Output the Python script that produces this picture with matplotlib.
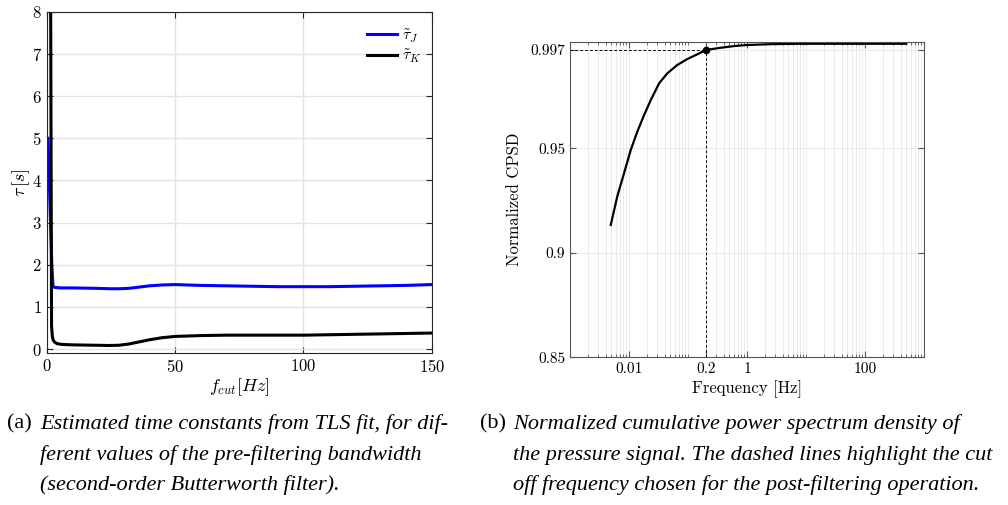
import numpy as np
import matplotlib
matplotlib.use('Agg')
import matplotlib.pyplot as plt
from matplotlib.ticker import FixedLocator, LogLocator, NullFormatter

# ---------------------------------------------------------------------------
# Datos (a): constantes de tiempo vs frecuencia de corte del pre-filtro
# ---------------------------------------------------------------------------
f_cut_J = [0.5, 1.0, 1.5, 2.0, 2.5, 5, 10, 15, 20, 25, 28, 32, 36, 40, 45, 50,
           55, 60, 70, 80, 90, 100, 110, 120, 130, 140, 150]
tau_J = [5.0, 4.0, 3.0, 2.0, 1.47, 1.45, 1.45, 1.445, 1.44, 1.43, 1.43, 1.44,
         1.47, 1.50, 1.52, 1.53, 1.52, 1.51, 1.50, 1.49, 1.48, 1.48, 1.48,
         1.49, 1.50, 1.51, 1.53]

f_cut_K = [1.3, 1.9, 2.2, 2.5, 3.0, 4.0, 6.0, 10, 15, 20, 24, 28, 32, 36, 40,
           45, 50, 55, 60, 70, 80, 90, 100, 110, 120, 130, 140, 150]
tau_K = [14.0, 0.55, 0.30, 0.22, 0.17, 0.13, 0.11, 0.10, 0.095, 0.09, 0.085,
         0.09, 0.12, 0.17, 0.22, 0.27, 0.30, 0.31, 0.32, 0.33, 0.33, 0.33,
         0.33, 0.34, 0.35, 0.36, 0.37, 0.38]

# ---------------------------------------------------------------------------
# Datos (b): CPSD normalizada vs frecuencia
# ---------------------------------------------------------------------------
freq = [0.0049, 0.0063, 0.00822, 0.0107, 0.0138, 0.0180, 0.0234, 0.0324,
        0.0447, 0.0661, 0.0977, 0.1445, 0.2, 0.339, 0.603, 1.0, 2.51, 7.94,
        50, 500]
cpsd = [0.9133, 0.9268, 0.9380, 0.9492, 0.9579, 0.9659, 0.9731, 0.9811,
        0.9859, 0.9899, 0.9927, 0.9950, 0.9970, 0.9980, 0.9989, 0.9994,
        0.9998, 1.0, 1.0, 1.0]
f_sel = 0.2
cpsd_sel = 0.997

xticks_b = [0.01, 0.2, 1, 100]
xticklabels_b = ['0.01', '0.2', '1', '100']
yticks_b = [0.85, 0.9, 0.95, 0.997]
yticklabels_b = ['0.85', '0.9', '0.95', '0.997']

caption_a = ["Estimated time constants from TLS fit, for dif-",
             "ferent values of the pre-filtering bandwidth",
             "(second-order Butterworth filter)."]
caption_b = ["Normalized cumulative power spectrum density of",
             "the pressure signal. The dashed lines highlight the cut",
             "off frequency chosen for the post-filtering operation."]

# ---------------------------------------------------------------------------
# Estilo
# ---------------------------------------------------------------------------
plt.rcParams['font.family'] = 'cmr10'
plt.rcParams['mathtext.fontset'] = 'cm'
plt.rcParams['axes.formatter.use_mathtext'] = True

fig = plt.figure(figsize=(10.08, 5.05), dpi=100)

eje_color = '#262626'
grid_color = '#e3e3e3'

# ---- (a) ----
ax1 = fig.add_axes([0.0463, 0.3004, 0.3820, 0.6764])
ax1.plot(f_cut_J, tau_J, color='#0000ff', linewidth=2.2, label=r'$\tilde{\tau}_J$')
ax1.plot(f_cut_K, tau_K, color='black', linewidth=2.2, label=r'$\tilde{\tau}_K$')
ax1.set_xlim(0, 150)
ax1.set_ylim(-0.1, 8)
ax1.set_xticks([0, 50, 100, 150])
ax1.set_yticks(range(0, 9))
ax1.grid(True, color=grid_color, linewidth=1.0)
ax1.set_axisbelow(True)
ax1.tick_params(direction='in', top=True, right=True, labelsize=12,
                color=eje_color, length=4)
for sp in ax1.spines.values():
    sp.set_color(eje_color)
ax1.set_xlabel(r'$f_{cut}[Hz]$', fontsize=13, labelpad=1)
ax1.set_ylabel(r'$\tau\,[s]$', fontsize=13, labelpad=0)
leg = ax1.legend(loc='upper right', frameon=False, fontsize=11.5,
                 handlelength=1.9, handletextpad=0.35, borderpad=0,
                 borderaxespad=0, labelspacing=0.2,
                 bbox_to_anchor=(0.975, 0.955))

# ---- (b) ----
ax2 = fig.add_axes([0.5655, 0.2925, 0.3512, 0.6250])
ax2.set_xscale('log')
ax2.plot(freq, cpsd, color='black', linewidth=1.6)
ax2.plot([1e-3, f_sel], [cpsd_sel, cpsd_sel], color='black', linestyle='--',
         linewidth=0.7, dashes=(3, 2))
ax2.plot([f_sel, f_sel], [0.85, cpsd_sel], color='black', linestyle='--',
         linewidth=0.7, dashes=(3, 2))
ax2.plot([f_sel], [cpsd_sel], marker='o', color='black', markersize=4.5)
ax2.set_xlim(1e-3, 1e3)
ax2.set_ylim(0.85, 1.001)
ax2.xaxis.set_major_locator(FixedLocator(xticks_b))
ax2.set_xticklabels(xticklabels_b)
ax2.xaxis.set_minor_locator(LogLocator(base=10, subs=np.arange(1, 10), numticks=20))
ax2.xaxis.set_minor_formatter(NullFormatter())
ax2.set_yticks(yticks_b)
ax2.set_yticklabels(yticklabels_b)
ax2.grid(True, which='both', axis='x', color='#e8e8e8', linewidth=0.6)
ax2.grid(True, which='major', axis='y', color='#e8e8e8', linewidth=0.6)
ax2.set_axisbelow(True)
ax2.tick_params(which='both', direction='in', top=True, right=True,
                labelsize=11, color='#555555')
ax2.tick_params(which='major', length=4)
ax2.tick_params(which='minor', length=2)
for sp in ax2.spines.values():
    sp.set_color('#555555')
ax2.set_xlabel('Frequency [Hz]', fontsize=12, labelpad=3)
ax2.set_ylabel('Normalized CPSD', fontsize=12, labelpad=6)

# ---- Leyendas de las subfiguras ----
cap_font = 'Liberation Serif'
cap_size = 16
y_lineas = [0.160, 0.099, 0.040]
fig.text(0.007, y_lineas[0], '(a)', fontsize=cap_size, family=cap_font,
         va='center', ha='left')
for y, linea in zip(y_lineas, caption_a):
    fig.text(0.040, y, linea, fontsize=cap_size, family=cap_font,
             style='italic', va='center', ha='left')
fig.text(0.476, y_lineas[0], '(b)', fontsize=cap_size, family=cap_font,
         va='center', ha='left')
for y, linea in zip(y_lineas, caption_b):
    fig.text(0.509, y, linea, fontsize=cap_size, family=cap_font,
             style='italic', va='center', ha='left')

fig.savefig('out.png', dpi=100)
